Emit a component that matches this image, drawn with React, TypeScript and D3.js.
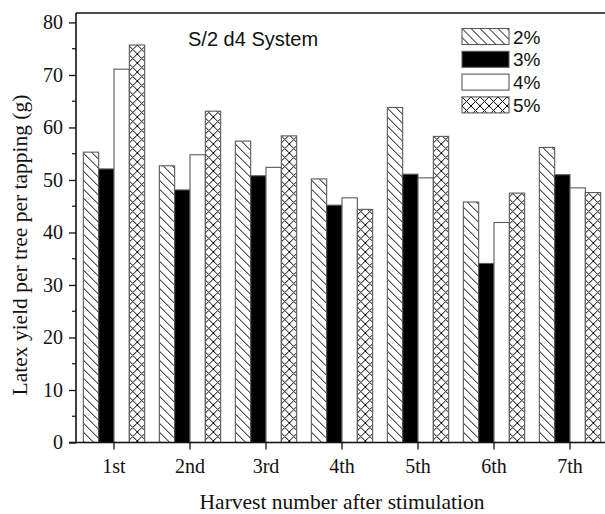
import { useRef, useEffect } from 'react';
import * as d3 from 'd3';

const harvests = ['1st', '2nd', '3rd', '4th', '5th', '6th', '7th'];
const doses = ['2%', '3%', '4%', '5%'];
const yield2 = [55.3, 52.7, 57.4, 50.2, 63.8, 45.8, 56.2];
const yield3 = [52.1, 48.1, 50.8, 45.2, 51.1, 34.1, 51.0];
const yield4 = [71.1, 54.8, 52.4, 46.6, 50.4, 41.9, 48.5];
const yield5 = [75.7, 63.1, 58.4, 44.4, 58.3, 47.5, 47.6];
const yMajor = [0, 10, 20, 30, 40, 50, 60, 70, 80];
const yMinor = [5, 15, 25, 35, 45, 55, 65, 75];

const seriesByDose = [yield2, yield3, yield4, yield5];
const fills = ['url(#hatch)', '#000000', '#ffffff', 'url(#cross)'];

const serif = '"Liberation Serif", "Times New Roman", serif';
const sans = '"Liberation Sans", Arial, sans-serif';

const Chart = () => {
  const svgRef = useRef<SVGSVGElement>(null);

  useEffect(() => {
    const width = 605;
    const height = 514;
    const left = 76;
    const right = 608;
    const top = 13;
    const bottom = 442.5;

    const svg = d3.select(svgRef.current);
    svg.selectAll('*').remove();
    svg.attr('viewBox', `0 0 ${width} ${height}`);

    const defs = svg.append('defs');
    const hatch = defs.append('pattern')
      .attr('id', 'hatch')
      .attr('patternUnits', 'userSpaceOnUse')
      .attr('width', 9)
      .attr('height', 9);
    hatch.append('rect').attr('width', 9).attr('height', 9).attr('fill', '#fff');
    hatch.append('path')
      .attr('d', 'M0,0L9,9M-2,7L2,11M7,-2L11,2')
      .attr('stroke', '#000')
      .attr('stroke-width', 1);

    const cross = defs.append('pattern')
      .attr('id', 'cross')
      .attr('patternUnits', 'userSpaceOnUse')
      .attr('width', 9)
      .attr('height', 9);
    cross.append('rect').attr('width', 9).attr('height', 9).attr('fill', '#fff');
    cross.append('path')
      .attr('d', 'M0,0L9,9M-2,7L2,11M7,-2L11,2M0,9L9,0M-2,2L2,-2M7,11L11,7')
      .attr('stroke', '#000')
      .attr('stroke-width', 1);

    const x = d3.scaleBand()
      .domain(harvests)
      .range([left, right])
      .paddingInner(0.193)
      .paddingOuter(0.0965);

    const xInner = d3.scaleBand()
      .domain(doses)
      .range([0, x.bandwidth()]);

    const y = d3.scaleLinear()
      .domain([0, 81.8])
      .range([bottom, top]);

    // bars
    const groups = svg.append('g')
      .selectAll('g')
      .data(harvests)
      .enter()
      .append('g')
      .attr('transform', d => `translate(${x(d)},0)`);

    groups.selectAll('rect')
      .data((h, i) => doses.map((dose, k) => ({ dose, k, value: seriesByDose[k][i] })))
      .enter()
      .append('rect')
      .attr('x', d => xInner(d.dose))
      .attr('y', d => y(d.value))
      .attr('width', xInner.bandwidth())
      .attr('height', d => bottom - y(d.value))
      .attr('fill', d => fills[d.k])
      .attr('stroke', '#5a5a5a')
      .attr('stroke-width', 1.1);

    // frame
    svg.append('path')
      .attr('d', `M${left},${top}H${right}V${bottom}`)
      .attr('fill', 'none')
      .attr('stroke', '#111')
      .attr('stroke-width', 1.4);

    // y axis
    const yAxis = svg.append('g').attr('transform', `translate(${left},0)`);
    yAxis.call(
      d3.axisLeft(y).tickValues(yMajor).tickSize(7).tickPadding(6)
    );
    yAxis.select('.domain').attr('stroke', '#111').attr('stroke-width', 1.6)
      .attr('d', `M0,${top}V${bottom}`);
    yAxis.selectAll('.tick line').attr('stroke', '#111').attr('stroke-width', 1.3);
    yAxis.selectAll('.tick text')
      .attr('fill', '#111')
      .style('font-family', serif)
      .style('font-size', '20px');
    yAxis.selectAll('.minor')
      .data(yMinor)
      .enter()
      .append('line')
      .attr('class', 'minor')
      .attr('x1', -4)
      .attr('x2', 0)
      .attr('y1', d => y(d))
      .attr('y2', d => y(d))
      .attr('stroke', '#111')
      .attr('stroke-width', 1.2);

    // x axis
    const xAxis = svg.append('g').attr('transform', `translate(0,${bottom})`);
    xAxis.call(d3.axisBottom(x).tickSize(7).tickPadding(9));
    xAxis.select('.domain').attr('stroke', '#111').attr('stroke-width', 1.6)
      .attr('d', `M${left - 7},0H${right}`);
    xAxis.selectAll('.tick line').attr('stroke', '#111').attr('stroke-width', 1.3);
    xAxis.selectAll('.tick text')
      .attr('fill', '#111')
      .style('font-family', serif)
      .style('font-size', '20px');

    // axis titles
    svg.append('text')
      .attr('x', (left + right) / 2)
      .attr('y', 509)
      .attr('text-anchor', 'middle')
      .attr('fill', '#111')
      .style('font-family', serif)
      .style('font-size', '21.5px')
      .text('Harvest number after stimulation');

    svg.append('text')
      .attr('transform', 'translate(27,245) rotate(-90)')
      .attr('text-anchor', 'middle')
      .attr('fill', '#111')
      .style('font-family', serif)
      .style('font-size', '21.5px')
      .text('Latex yield per tree per tapping (g)');

    // title
    svg.append('text')
      .attr('x', 188)
      .attr('y', 46)
      .attr('fill', '#111')
      .style('font-family', sans)
      .style('font-size', '20px')
      .text('S/2 d4 System');

    // legend
    const legend = svg.append('g').attr('transform', 'translate(462,28.5)');
    const rows = legend.selectAll('g')
      .data(doses)
      .enter()
      .append('g')
      .attr('transform', (d, i) => `translate(0,${i * 22.8})`);

    rows.append('rect')
      .attr('width', 47)
      .attr('height', 16)
      .attr('fill', (d, i) => fills[i])
      .attr('stroke', '#5a5a5a')
      .attr('stroke-width', 1.1);

    rows.append('text')
      .attr('x', 51)
      .attr('y', 15)
      .attr('fill', '#111')
      .style('font-family', sans)
      .style('font-size', '19px')
      .text(d => d);
  }, []);

  return (
    <svg
      ref={svgRef}
      width={605}
      height={514}
      style={{ position: 'absolute', left: 0, top: 0, background: '#fff' }}
    />
  );
};

export default function App() {
  return <Chart />;
}
